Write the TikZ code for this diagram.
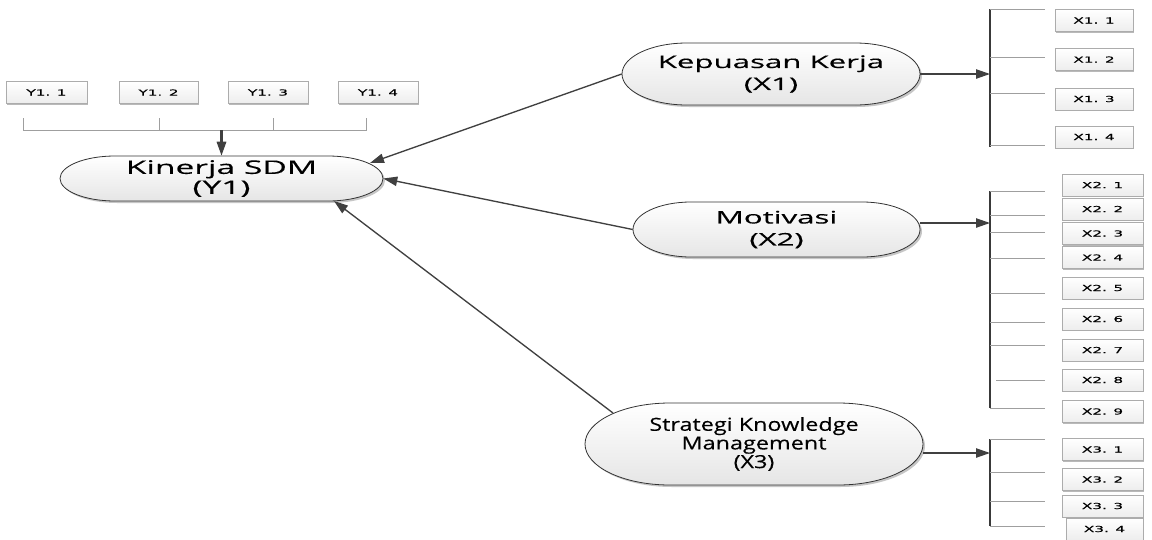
\documentclass[tikz,border=0pt]{standalone}
\usepackage{fontspec}
\setmainfont{Open Sans}
\newfontfamily\ellfont[FakeStretch=1.8,FakeBold=0.3]{Open Sans}
\newfontfamily\ellfontn[FakeStretch=1.3,FakeBold=0.3]{Open Sans}
\newfontfamily\boxfont[FakeStretch=1.85,FakeBold=0.4]{DejaVu Sans}
\usetikzlibrary{arrows.meta,shadows}

% name, cx, cy, w, h, rx, font, text
\newcommand\capsule[8]{%
  \begin{scope}[shift={(#2,#3)}]
    \pgfmathsetmacro\capHW{#4/2}%
    \pgfmathsetmacro\capHH{#5/2}%
    \pgfmathsetmacro\capAX{#4/2-#6}%
    \pgfmathsetmacro\capCX{#4/2-#6+0.5523*#6}%
    \pgfmathsetmacro\capCY{0.5523*#5/2}%
    \path[capfill] (-\capAX,-\capHH) -- (\capAX,-\capHH)
      .. controls (\capCX,-\capHH) and (\capHW,-\capCY) .. (\capHW,0)
      .. controls (\capHW,\capCY) and (\capCX,\capHH) .. (\capAX,\capHH)
      -- (-\capAX,\capHH)
      .. controls (-\capCX,\capHH) and (-\capHW,\capCY) .. (-\capHW,0)
      .. controls (-\capHW,-\capCY) and (-\capCX,-\capHH) .. cycle;
  \end{scope}
  \node[captext, font=#7, minimum width={#4*0.75pt}, minimum height={#5*0.75pt}] (#1) at (#2,#3) {#8};
}

\begin{document}
\begin{tikzpicture}[x=0.75pt,y=-0.75pt,
  conn/.style={draw=black!75, line width=1pt, -{Triangle[length=10.5pt,width=7pt]}},
  brk/.style={draw=gray!75, line width=0.75pt},
  vbar/.style={draw=gray!45!black, line width=1.2pt},
  ind/.style={draw=gray!65, top color=white, bottom color=gray!14,
    general shadow={fill=gray!55, shadow xshift=1.1pt, shadow yshift=-1.1pt},
    inner sep=0pt, minimum height=16.5pt,
    font=\boxfont\fontsize{6.2}{7}\selectfont},
  capfill/.style={draw=gray!40!black, line width=0.6pt, top color=white, bottom color=gray!20,
    general shadow={fill=gray!45, shadow xshift=1.5pt, shadow yshift=-1.5pt}},
  captext/.style={inner sep=0pt, align=center, text=black}
]
\useasboundingbox (0,0) rectangle (1152,539);
\fill[white] (0,0) rectangle (1152,539);

% indicator boxes Y
\node[ind, minimum width=60.75pt] (y1) at (46.5,92.5) {Y1. 1};
\node[ind, minimum width=59.25pt] (y2) at (158.5,92.5) {Y1. 2};
\node[ind, minimum width=60pt] (y3) at (268,92.5) {Y1. 3};
\node[ind, minimum width=60pt] (y4) at (378,92.5) {Y1. 4};

% latent variables
\capsule{kin}{221.5}{178.5}{323}{45}{55}{\ellfont\fontsize{14}{15}\selectfont}{\raisebox{-1.2pt}{Kinerja SDM}\\\raisebox{-1.2pt}{(Y1)}}
\capsule{kep}{771}{74}{298}{62}{65}{\ellfont\fontsize{13}{16.5}\selectfont}{Kepuasan Kerja\\(X1)}
\capsule{mot}{776.5}{229.5}{287}{55}{58}{\ellfont\fontsize{13}{16.5}\selectfont}{Motivasi\\(X2)}
\capsule{str}{754}{444}{338}{82}{85}{\ellfontn\fontsize{13.5}{14}\selectfont}{Strategi Knowledge\\Management\\(X3)}

% Y bracket
\coordinate (yb) at (221.5,130);
\draw[brk] (23,118) -- (23,130) -- (366,130) -- (366,118);
\draw[brk] (159,118) -- (159,130);
\draw[brk] (273,118) -- (273,130);
\draw[conn, line width=1.6pt] (kin.north |- yb) -- (kin.north);

% connectors to Kinerja
\coordinate (kinA) at (370,163);
\coordinate (kinC) at (334,201);
\coordinate (strA) at (613,413);
\draw[conn] (kep.west) -- (kinA);
\draw[conn] (mot.west) -- (kin.east);
\draw[conn] (strA) -- (kinC);

% connectors to indicator brackets
\coordinate (x1in) at (990,74);
\coordinate (x2in) at (990,223);
\coordinate (x3in) at (990,453);
\draw[conn] (kep.east) -- (x1in);
\draw[conn] (mot.east |- x2in) -- (x2in);
\draw[conn] (str.east |- x3in) -- (x3in);

% brackets
\draw[vbar] (990,9) -- (990,147);
\foreach \y in {9,57,93,145} \draw[brk] (990,\y) -- (1045,\y);
\draw[vbar] (990,191) -- (990,408);
\foreach \y in {191,215,232,258,293,322,345,408} \draw[brk] (990,\y) -- (1045,\y);
\draw[brk] (996,380) -- (1045,380);
\draw[vbar] (990,439) -- (990,526);
\foreach \y in {439,472,501,526} \draw[brk] (990,\y) -- (1045,\y);

% X1 indicators
\node[ind, minimum width=58.5pt] (x11) at (1094,20.5) {X1. 1};
\node[ind, minimum width=58.5pt] (x12) at (1094,59.5) {X1. 2};
\node[ind, minimum width=58.5pt] (x13) at (1094,99) {X1. 3};
\node[ind, minimum width=58.5pt] (x14) at (1094,137) {X1. 4};

% X2 indicators
\node[ind, minimum width=60.75pt] (x21) at (1102.5,185) {X2. 1};
\node[ind, minimum width=60.75pt] (x22) at (1102.5,209) {X2. 2};
\node[ind, minimum width=60.75pt] (x23) at (1102.5,233.5) {X2. 3};
\node[ind, minimum width=60.75pt] (x24) at (1102.5,257.5) {X2. 4};
\node[ind, minimum width=60.75pt] (x25) at (1102.5,288) {X2. 5};
\node[ind, minimum width=60.75pt] (x26) at (1102.5,319) {X2. 6};
\node[ind, minimum width=60.75pt] (x27) at (1102.5,350) {X2. 7};
\node[ind, minimum width=60.75pt] (x28) at (1102.5,380) {X2. 8};
\node[ind, minimum width=60.75pt] (x29) at (1102.5,411.5) {X2. 9};

% X3 indicators
\node[ind, minimum width=60.75pt] (x31) at (1102.5,449.5) {X3. 1};
\node[ind, minimum width=60.75pt] (x32) at (1102.5,479.5) {X3. 2};
\node[ind, minimum width=60.75pt] (x33) at (1102.5,506) {X3. 3};
\node[ind, minimum width=57.75pt] (x34) at (1104.5,529) {X3. 4};
\end{tikzpicture}
\end{document}
